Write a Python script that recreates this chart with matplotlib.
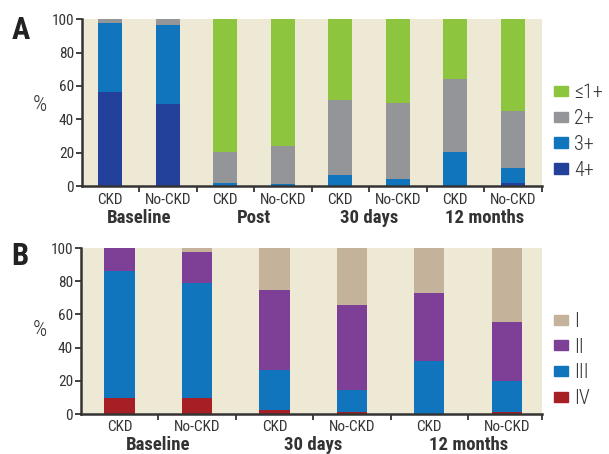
import numpy as np
import matplotlib
matplotlib.use('Agg')
import matplotlib.pyplot as plt
from matplotlib.patches import Patch

plt.rcParams['font.family'] = ['Roboto Condensed', 'DejaVu Sans']

# panel A: MR grade
a_cats = ['CKD', 'No-CKD', 'CKD', 'No-CKD', 'CKD', 'No-CKD', 'CKD', 'No-CKD']
a_groups = ['Baseline', 'Post', '30 days', '12 months']
a_grade4 = [56.5, 49.2, 0, 0, 0, 0, 0, 1.8]
a_grade3 = [41.3, 47.4, 1.8, 1.4, 6.8, 4.2, 20.4, 9.0]
a_grade2 = [2.2, 3.4, 18.6, 22.8, 45.0, 45.8, 43.8, 34.2]
a_grade1 = [0, 0, 79.6, 75.8, 48.2, 50.0, 35.8, 55.0]
a_labels = ['4+', '3+', '2+', '\u22641+']
a_colors = ['#23409a', '#1175be', '#939598', '#8dc53f']

# panel B: NYHA class
b_cats = ['CKD', 'No-CKD', 'CKD', 'No-CKD', 'CKD', 'No-CKD']
b_groups = ['Baseline', '30 days', '12 months']
b_iv = [9.5, 9.5, 2.4, 1.2, 0, 1.2]
b_iii = [76.6, 69.4, 23.9, 13.3, 32.1, 18.9]
b_ii = [13.9, 18.7, 48.4, 51.2, 40.8, 35.3]
b_i = [0, 2.4, 25.3, 34.3, 27.1, 44.6]
b_labels = ['IV', 'III', 'II', 'I']
b_colors = ['#a61f24', '#1175be', '#7e3f97', '#c4b39a']

bg = '#ede9d5'
txt = '#333333'

fig = plt.figure(figsize=(6.09, 4.54), dpi=100)
ax1 = fig.add_axes([0.134, 0.5903, 0.7553, 0.3672])
ax2 = fig.add_axes([0.1325, 0.0881, 0.7570, 0.3656])


def stacked(ax, cats, groups, series, colors, width, xmax, cat_y, grp_y):
    x = np.arange(len(cats))
    bottom = np.zeros(len(cats))
    for vals, c in zip(series, colors):
        ax.bar(x, vals, width, bottom=bottom, color=c, linewidth=0, zorder=2)
        bottom += np.array(vals)
    ax.set_facecolor(bg)
    ax.set_xlim(-0.5, xmax)
    ax.set_ylim(0, 100)
    ax.set_yticks(range(0, 101, 20))
    ax.set_xticks(list(np.arange(0.5, len(cats) - 0.5, 1)) + [xmax])
    ax.set_xticklabels([])
    for xi, lab in zip(x, cats):
        ax.text(xi, cat_y, lab, ha='center', va='top', fontsize=11, color=txt)
    for i, g in enumerate(groups):
        ax.text(2 * i + 0.5, grp_y, g, ha='center', va='top', fontsize=13.5,
                fontweight='bold', color=txt)
    for s in ['top', 'right']:
        ax.spines[s].set_visible(False)
    for s in ['left', 'bottom']:
        ax.spines[s].set_color(txt)
        ax.spines[s].set_linewidth(1.8)
        ax.spines[s].set_zorder(3)
    ax.tick_params(axis='both', direction='out', length=4.5, width=1.3,
                   color=txt, labelcolor=txt, labelsize=11, pad=1)


stacked(ax1, a_cats, a_groups, [a_grade4, a_grade3, a_grade2, a_grade1],
        a_colors, 0.42, 7.5, -4.2, -14.0)
stacked(ax2, b_cats, b_groups, [b_iv, b_iii, b_ii, b_i],
        b_colors, 0.39, 5.45, -3.6, -13.2)

leg_kw = dict(loc='upper left', frameon=False, handlelength=0.71,
              handleheight=0.4, handletextpad=0.3, borderpad=0,
              borderaxespad=0, labelcolor=txt,
              prop={'family': 'Roboto Condensed', 'weight': 'light', 'size': 14.5})
h1 = [Patch(color=c, label=l) for c, l in zip(a_colors[::-1], a_labels[::-1])]
fig.legend(handles=h1, bbox_to_anchor=(0.9097, 0.817), labelspacing=0.34,
           **leg_kw)
h2 = [Patch(color=c, label=l) for c, l in zip(b_colors[::-1], b_labels[::-1])]
fig.legend(handles=h2, bbox_to_anchor=(0.9097, 0.313), labelspacing=0.33,
           **leg_kw)

fig.text(0.0649, 0.7687, '%', fontsize=16, fontweight='light', color=txt,
         ha='center', va='center')
fig.text(0.0649, 0.273, '%', fontsize=16, fontweight='light', color=txt,
         ha='center', va='center')

fig.text(0.019, 0.968, 'A', fontsize=22, fontweight='bold', color='#222222',
         va='top')
fig.text(0.019, 0.470, 'B', fontsize=22, fontweight='bold', color='#222222',
         va='top')

fig.savefig('out.png', dpi=100)
